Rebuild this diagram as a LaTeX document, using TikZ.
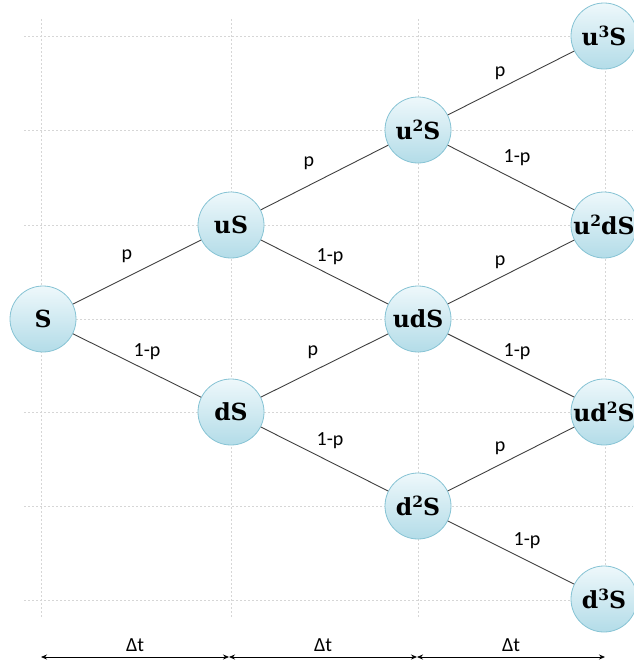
\documentclass[tikz,border=0pt]{standalone}
\usepackage{fontspec}
\setsansfont{Carlito}
\newfontfamily\statefont{DejaVu Serif}
\usetikzlibrary{arrows.meta}
\definecolor{gridgray}{HTML}{D6D6D6}
\definecolor{edgegray}{HTML}{404040}
\definecolor{balltop}{HTML}{EEF8FB}
\definecolor{ballbot}{HTML}{B3DCE8}
\definecolor{ballrim}{HTML}{86C3D4}
% superscript exponent for the state labels
\newcommand{\pw}[1]{\raisebox{0.36em}{\fontsize{15.5}{15.5}\selectfont #1}}
\tikzset{
  state/.style={circle, minimum size=66pt, inner sep=0pt, draw=ballrim, line width=0.8pt,
    top color=balltop, bottom color=ballbot, font=\statefont\bfseries\fontsize{23.5}{25}\selectfont},
  branch/.style={draw=edgegray, line width=0.9pt},
  prob/.style={font=\sffamily\fontsize{20}{22}\selectfont, inner sep=0pt},
  guide/.style={draw=gridgray, line width=0.8pt, dash pattern=on 2pt off 2pt},
  span/.style={draw=black, line width=0.8pt, {Stealth[length=6pt,width=5pt]}-{Stealth[length=6pt,width=5pt]}},
}
\begin{document}
\begin{tikzpicture}[x=1pt,y=-1pt]
\useasboundingbox (0,0) rectangle (633,664);
% dotted guide grid
\foreach \gx in {41,231,418,605} \draw[guide] (\gx,19) -- (\gx,618);
\foreach \gy in {36,130,225,319,412,506,600} \draw[guide] (24,\gy) -- (633,\gy);
% lattice states
\node[state] (S)   at (43,319)  {S};
\node[state] (uS)  at (231,225) {uS};
\node[state] (dS)  at (231,412) {dS};
\node[state] (uuS) at (418,130) {u\pw{2}S};
\node[state] (udS) at (418,319) {udS};
\node[state] (ddS) at (418,506) {d\pw{2}S};
\node[state] (uuuS) at (604,36)  {u\pw{3}S};
\node[state] (uudS) at (604,225) {u\pw{2}dS};
\node[state] (uddS) at (604,412) {ud\pw{2}S};
\node[state] (dddS) at (604,599) {d\pw{3}S};
% branches
\draw[branch] (S) -- (uS);
\draw[branch] (S) -- (dS);
\draw[branch] (uS) -- (uuS);
\draw[branch] (uS) -- (udS);
\draw[branch] (dS) -- (udS);
\draw[branch] (dS) -- (ddS);
\draw[branch] (uuS) -- (uuuS);
\draw[branch] (uuS) -- (uudS);
\draw[branch] (udS) -- (uudS);
\draw[branch] (udS) -- (uddS);
\draw[branch] (ddS) -- (uddS);
\draw[branch] (ddS) -- (dddS);
% branch probabilities
\node[prob] (p1) at (127,256) {p};
\node[prob] (q1) at (147,352) {1-p};
\node[prob] (p2) at (309,163) {p};
\node[prob] (q2) at (330,257) {1-p};
\node[prob] (p3) at (313,352) {p};
\node[prob] (q3) at (330,441) {1-p};
\node[prob] (p4) at (500,73)  {p};
\node[prob] (q4) at (517,158) {1-p};
\node[prob] (p5) at (500,262) {p};
\node[prob] (q5) at (517,352) {1-p};
\node[prob] (p6) at (500,448) {p};
\node[prob] (q6) at (527,541) {1-p};
% time steps
\coordinate (t0) at (41,657);
\coordinate (t1) at (229,657);
\coordinate (t2) at (417,657);
\coordinate (t3) at (605,657);
\draw[span] (t0) -- (t1);
\draw[span] (t1) -- (t2);
\draw[span] (t2) -- (t3);
\node[prob] (dt1) at (135,645) {Δt};
\node[prob] (dt2) at (323,645) {Δt};
\node[prob] (dt3) at (511,645) {Δt};
\end{tikzpicture}
\end{document}
